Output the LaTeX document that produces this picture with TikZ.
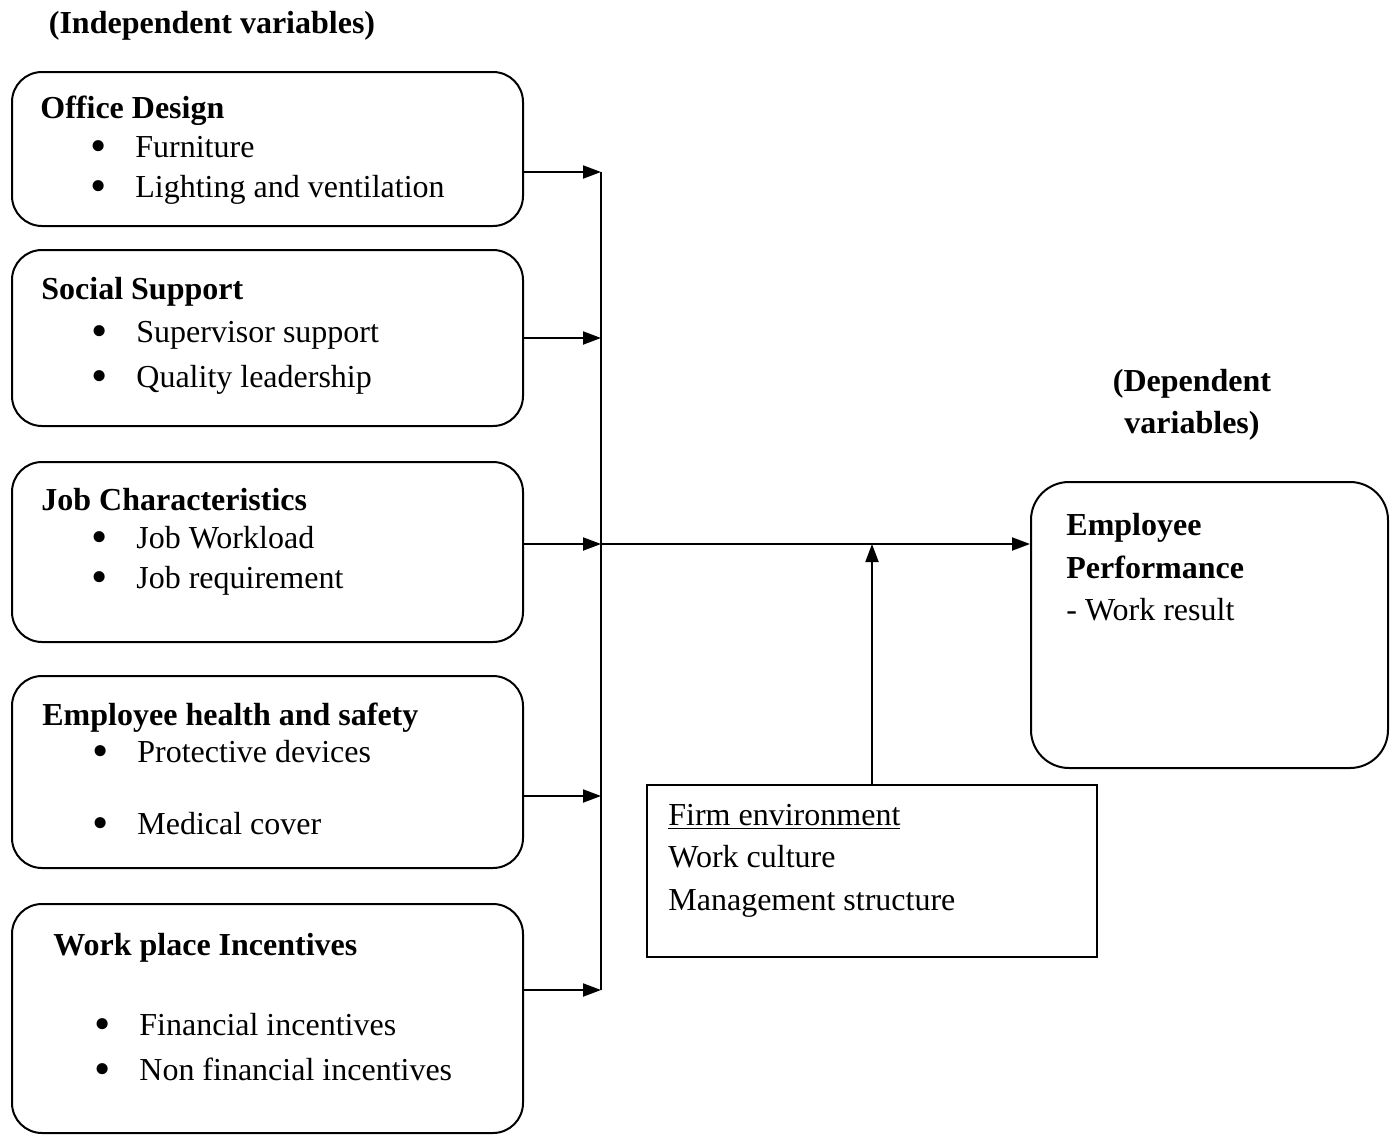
\documentclass[tikz,border=0pt]{standalone}
\usepackage{fontspec}
\setmainfont{Liberation Serif}
\usetikzlibrary{arrows.meta,positioning}

\newcommand{\bul}{\makebox[22.5pt][l]{\raisebox{-2.4pt}[0pt][0pt]{\scalebox{1.45}{\textbullet}}}}

\begin{document}
\begin{tikzpicture}[
    x=0.5pt, y=-0.5pt,
    every node/.style={inner sep=0pt},
    box/.style={draw, line width=1pt, rounded corners=15pt},
    firmbox/.style={draw, line width=1pt},
    txt/.style={anchor=base west, font=\fontsize{16}{20}\selectfont},
    hdr/.style={anchor=base west, font=\fontsize{16}{20}\selectfont\bfseries},
    lbl/.style={anchor=base, font=\fontsize{16}{20}\selectfont\bfseries},
    line/.style={line width=1pt},
    arr/.style={line, -{Triangle[length=9pt,width=6.5pt]}}
]
\useasboundingbox (0,0) rectangle (1394,1135);

% independent variables
\node[lbl] (indep) at (212,33) {(Independent variables)};

\node[box, minimum width=255.5pt, minimum height=77pt] (od) at (267.5,149) {};
\node[hdr] (od-t) at (40,119) {Office Design};
\node[txt] (od-a) at (90,157) {\bul Furniture};
\node[txt] (od-b) at (90,197) {\bul Lighting and ventilation};

\node[box, minimum width=255.5pt, minimum height=88pt] (ss) at (267.5,338) {};
\node[hdr] (ss-t) at (41,299) {Social Support};
\node[txt] (ss-a) at (91,342) {\bul Supervisor support};
\node[txt] (ss-b) at (91,387) {\bul Quality leadership};

\node[box, minimum width=255.5pt, minimum height=90pt] (jc) at (267.5,552) {};
\node[hdr] (jc-t) at (41,510) {Job Characteristics};
\node[txt] (jc-a) at (91,548) {\bul Job Workload};
\node[txt] (jc-b) at (91,588) {\bul Job requirement};

\node[box, minimum width=255.5pt, minimum height=96pt] (hs) at (267.5,772) {};
\node[hdr] (hs-t) at (42,725) {Employee health and safety};
\node[txt] (hs-a) at (92,762) {\bul Protective devices};
\node[txt] (hs-b) at (92,834) {\bul Medical cover};

\node[box, minimum width=255.5pt, minimum height=114.5pt] (wi) at (267.5,1018.5) {};
\node[hdr] (wi-t) at (53,955) {Work place Incentives};
\node[txt] (wi-a) at (94,1035) {\bul Financial incentives};
\node[txt] (wi-b) at (94,1080) {\bul Non financial incentives};

% dependent variable
\node[lbl] (dep-a) at (1192,391) {(Dependent};
\node[lbl] (dep-b) at (1192,433) {variables)};

\node[box, rounded corners=19pt, minimum width=178.5pt, minimum height=143pt] (ep) at (1209.5,625) {};
\node[hdr] (ep-t) at (1066,535) {Employee};
\node[hdr] (ep-u) at (1066,578) {Performance};
\node[txt] (ep-a) at (1066,620) {- Work result};

% moderating variable
\node[firmbox, minimum width=225pt, minimum height=86pt] (fe) at (872,871) {};
\node[txt] (fe-t) at (668,825) {\underline{Firm environment}};
\node[txt] (fe-a) at (668,867) {Work culture};
\node[txt] (fe-b) at (668,910) {Management structure};

% bus on the right of the boxes
\coordinate (j1) at (601,172);
\coordinate (j2) at (601,338);
\coordinate (j3) at (601,544);
\coordinate (j4) at (601,796);
\coordinate (j5) at (601,990);
\draw[line] (j1) -- (j5);

\draw[arr] (od.east |- j1) -- (j1);
\draw[arr] (ss.east |- j2) -- (j2);
\draw[arr] (jc.east |- j3) -- (j3);
\draw[arr] (hs.east |- j4) -- (j4);
\draw[arr] (wi.east |- j5) -- (j5);

\draw[arr] (j3) -- (ep.west |- j3);
\draw[arr] (fe.north) -- (fe.north |- j3);
\end{tikzpicture}
\end{document}
